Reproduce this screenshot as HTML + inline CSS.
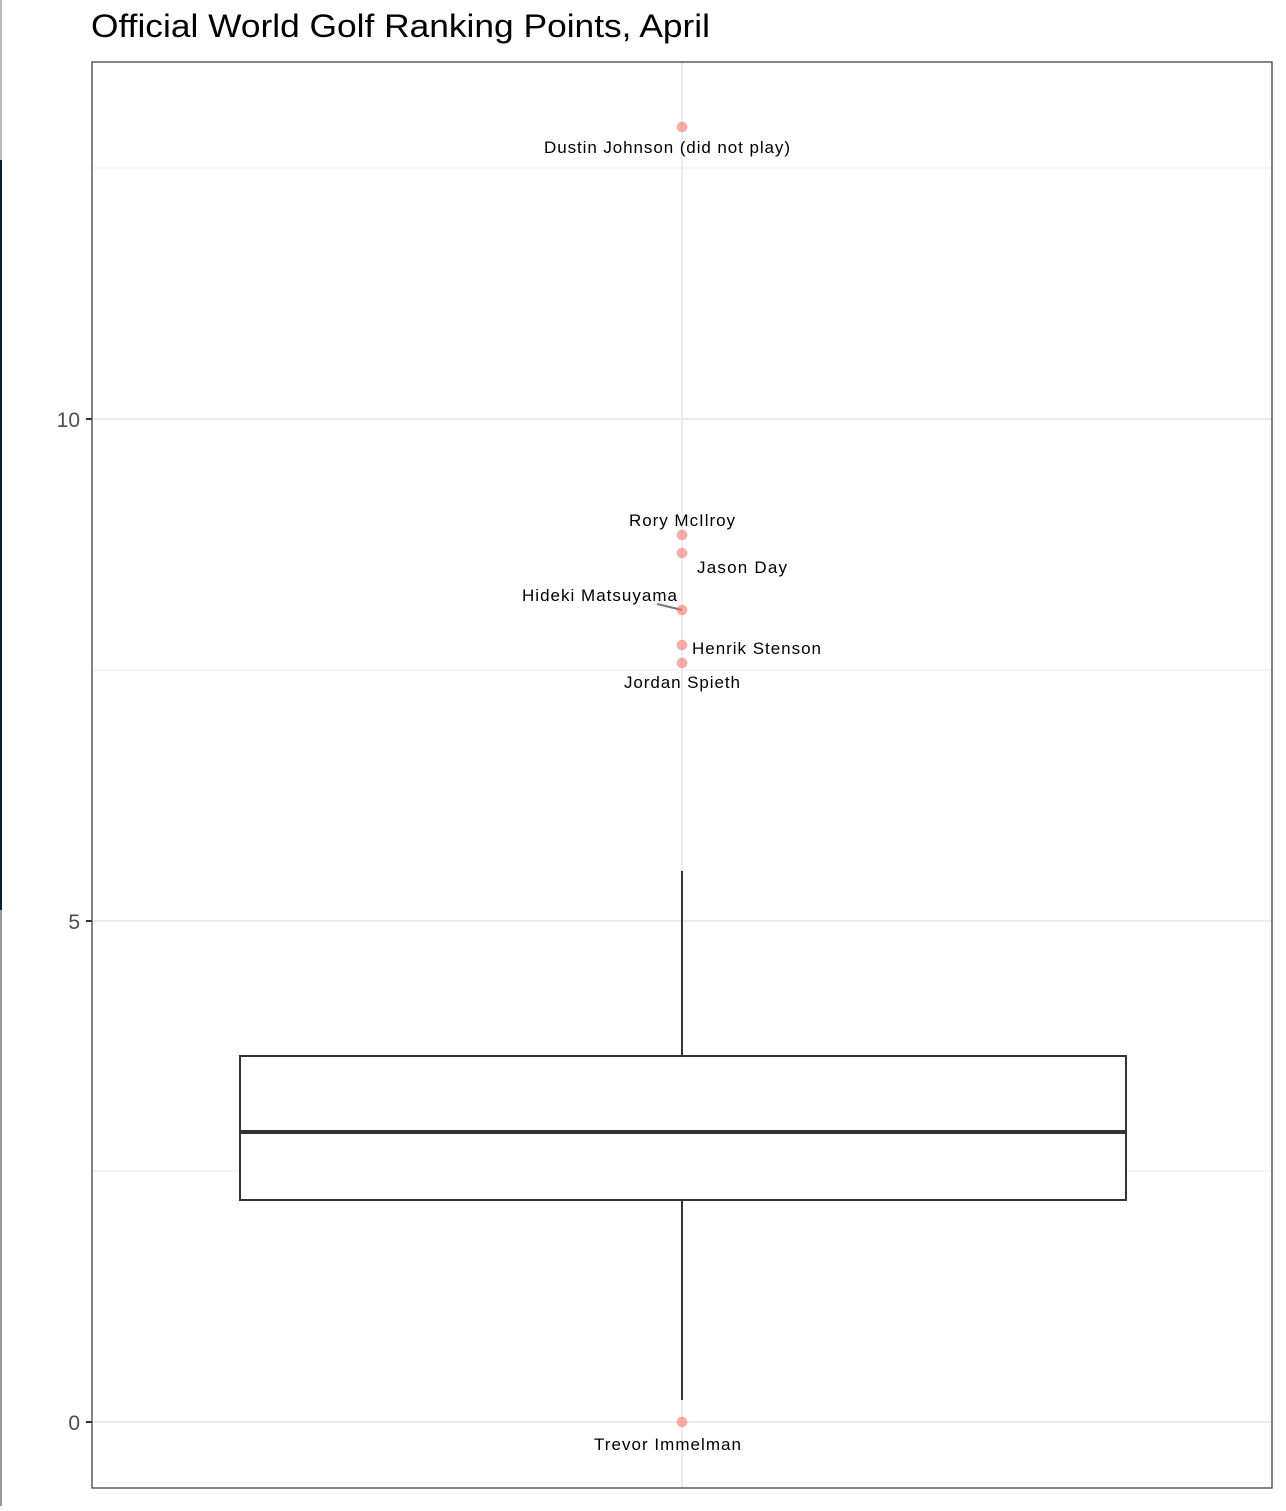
<!DOCTYPE html>
<html><head><style>body{margin:0;background:#fff}</style></head><body>
<svg width="1286" height="1506" xmlns="http://www.w3.org/2000/svg" font-family="Liberation Sans, sans-serif">
<rect width="1286" height="1506" fill="#fff"/>
<rect x="0" y="0" width="2" height="160" fill="#bbb"/>
<rect x="0" y="160" width="2" height="750" fill="#0a1e33"/>
<rect x="0" y="910" width="2" height="596" fill="#999"/>
<text x="91" y="37" font-size="32" fill="#000" textLength="619" lengthAdjust="spacingAndGlyphs">Official World Golf Ranking Points, April</text>
<g stroke="#ebebeb">
<line x1="92" x2="1272" y1="168" y2="168" stroke-width="1"/>
<line x1="92" x2="1272" y1="670" y2="670" stroke-width="1"/>
<line x1="92" x2="1272" y1="1171" y2="1171" stroke-width="1"/>
<line x1="92" x2="1272" y1="419" y2="419" stroke-width="2"/>
<line x1="92" x2="1272" y1="921" y2="921" stroke-width="2"/>
<line x1="92" x2="1272" y1="1422" y2="1422" stroke-width="2"/>
<line x1="682" x2="682" y1="62" y2="1488" stroke-width="2"/>
</g>
<g stroke="#333" stroke-width="2" fill="none">
<line x1="682" x2="682" y1="871" y2="1056"/>
<line x1="682" x2="682" y1="1200" y2="1400"/>
<rect x="240" y="1056" width="886" height="144" fill="#fff"/>
<line x1="240" x2="1126" y1="1132" y2="1132" stroke-width="4"/>
</g>
<line x1="657" y1="604" x2="682" y2="610" stroke="#777" stroke-width="2"/>
<g fill="#f8766d" fill-opacity="0.6" stroke="#f8766d" stroke-opacity="0.3">
<circle cx="682" cy="127" r="5"/><circle cx="682" cy="535" r="5"/><circle cx="682" cy="553" r="5"/>
<circle cx="682" cy="610" r="5"/><circle cx="682" cy="645" r="5"/><circle cx="682" cy="663" r="5"/>
<circle cx="682" cy="1422" r="5"/>
</g>
<g font-size="17" fill="#000" lengthAdjust="spacingAndGlyphs">
<text x="544" y="153" textLength="246">Dustin Johnson (did not play)</text>
<text x="629" y="526" textLength="106">Rory McIlroy</text>
<text x="697" y="573" textLength="90">Jason Day</text>
<text x="522" y="601" textLength="155">Hideki Matsuyama</text>
<text x="692" y="654" textLength="129">Henrik Stenson</text>
<text x="624" y="688" textLength="116">Jordan Spieth</text>
<text x="594" y="1450" textLength="147">Trevor Immelman</text>
</g>
<rect x="92" y="62" width="1180" height="1426" fill="none" stroke="#333" stroke-width="1.2"/>
<g stroke="#333" stroke-width="2"><line x1="86" x2="92" y1="419" y2="419"/><line x1="86" x2="92" y1="921" y2="921"/><line x1="86" x2="92" y1="1422" y2="1422"/></g>
<g font-size="21" fill="#4d4d4d" text-anchor="end">
<text x="80" y="427">10</text><text x="80" y="929">5</text><text x="80" y="1430">0</text>
</g>
</svg>
</body></html>
